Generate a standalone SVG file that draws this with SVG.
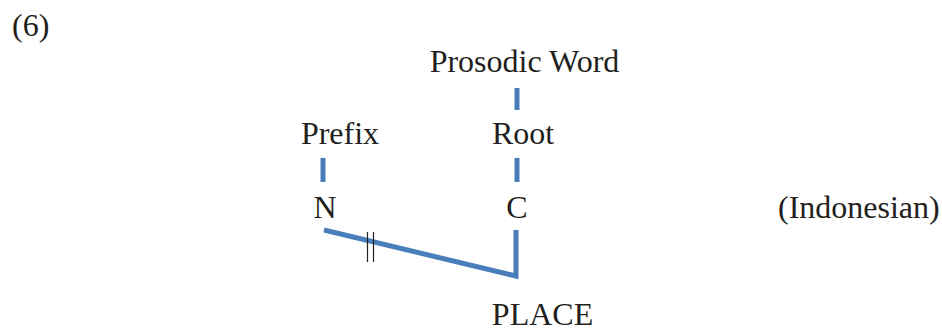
<svg xmlns="http://www.w3.org/2000/svg" width="942" height="331" viewBox="0 0 942 331">
<style>
text{font-family:"Liberation Serif","DejaVu Serif",serif;font-size:32px;fill:#231f20}
.c{text-anchor:middle}
.ln{stroke:#4a7ebb;stroke-width:5;fill:none}
.tk{stroke:#231f20;stroke-width:1.2}
</style>
<rect width="942" height="331" fill="#fff"/>
<text x="12" y="36">(6)</text>
<g id="pword"><text class="c" x="524.5" y="72">Prosodic Word</text></g>
<g id="prefix"><text class="c" x="340" y="144">Prefix</text></g>
<g id="root"><text class="c" x="523" y="144">Root</text></g>
<g id="n"><text class="c" x="325" y="218">N</text></g>
<g id="c"><text class="c" x="517" y="218">C</text></g>
<g id="place"><text class="c" x="542.5" y="325">PLACE</text></g>
<text x="778" y="218">(Indonesian)</text>
<g id="connectors">
<line class="ln" x1="517" y1="88" x2="517" y2="110"/>
<line class="ln" x1="517" y1="158" x2="517" y2="182"/>
<line class="ln" x1="323" y1="158" x2="323" y2="182"/>
<polyline class="ln" points="324,230 516,276 516,230"/>
<line class="tk" x1="367.5" y1="232" x2="367.5" y2="262"/>
<line class="tk" x1="373.5" y1="232" x2="373.5" y2="262"/>
</g>
</svg>
